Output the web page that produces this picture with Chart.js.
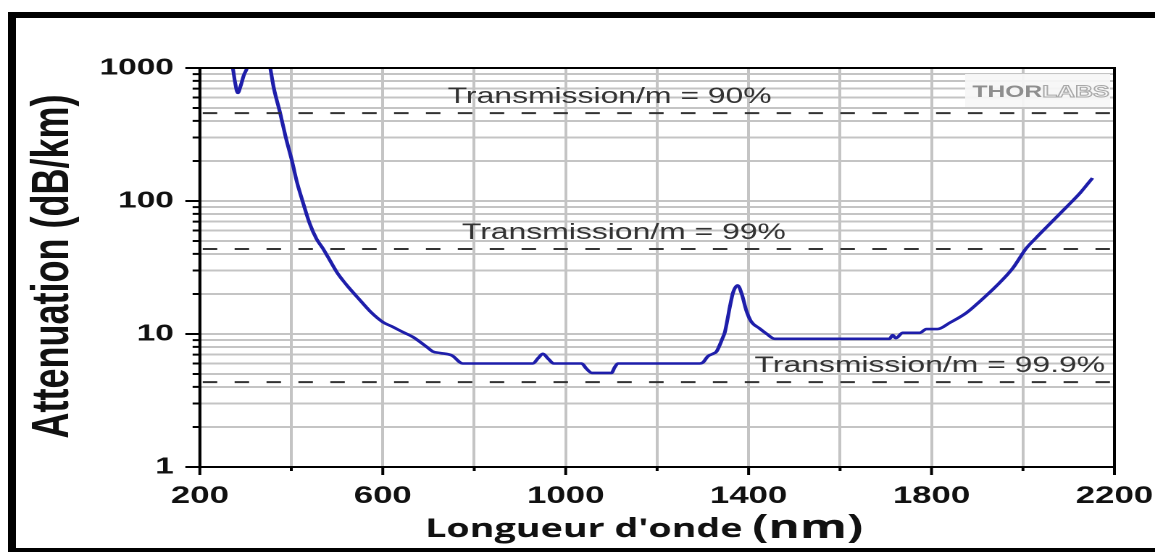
<!DOCTYPE html>
<html lang="en">
<head>
    <title>Attenuation vs wavelength</title>
    <meta charset="UTF-8">
    <script src="https://cdn.jsdelivr.net/npm/chart.js"></script>
    <style>
        html, body { margin: 0; padding: 0; background: #fff; overflow: hidden; }
        #frame { position: absolute; left: 8px; top: 12px; width: 1200px; height: 530px;
                 border-top: 6px solid #000; border-left: 8px solid #000; border-bottom: 6px solid #000; }
        /* the reference picture is stretched sideways, so the chart is drawn narrow and widened */
        #wrap { position: absolute; left: 0; top: 0; transform: scaleX(1.4492); transform-origin: 0 0; }
    </style>
</head>
<body>
    <div id="frame"></div>
    <div id="wrap">
        <canvas id="fibreChart" width="797" height="552"></canvas>
    </div>

    <script>
        // Attenuation curve (nm, dB/km)
        const wavelength = [
            262, 272, 277, 283, 289, 296, 303, 310, 335, 350, 354,
            362, 375, 388, 401, 412, 423, 440, 455, 469, 480, 500, 512, 525, 550, 575, 600,
            622, 645, 666, 696, 709, 725, 751, 775,
            928, 940, 950, 962, 974, 1035, 1045, 1057, 1100, 1107, 1114,
            1293, 1300, 1311, 1322, 1330, 1343, 1348, 1354, 1359, 1366, 1376, 1385, 1395, 1405, 1424, 1440, 1457,
            1708, 1715, 1722, 1737, 1774, 1789, 1813, 1839, 1876, 1905, 1942, 1977, 2007, 2029, 2060, 2095, 2125, 2152
        ];
        const attenuation = [
            1300, 1000, 780, 650, 730, 880, 1000, 1300, 1600, 1200, 1000,
            700, 467, 300, 203, 140, 104, 68, 52, 44, 38, 29, 25.5, 22.5, 18, 14.5, 12.3,
            11.3, 10.3, 9.5, 8.0, 7.4, 7.2, 6.9, 6.0,
            6.0, 6.6, 7.1, 6.5, 6.0, 6.0, 5.5, 5.1, 5.1, 5.6, 6.0,
            6.0, 6.1, 6.8, 7.1, 7.4, 9.3, 10.3, 13, 16, 20.5, 23.2, 20, 15, 12.5, 11.0, 10.0, 9.2,
            9.2, 9.8, 9.3, 10.2, 10.2, 10.9, 10.9, 12.1, 14.4, 17.5, 23, 31, 44, 53, 68, 90, 115, 149
        ];

        // Axes
        const xGrid = [200, 400, 600, 800, 1000, 1200, 1400, 1600, 1800, 2000, 2200];
        const xTickLabels = [200, 600, 1000, 1400, 1800, 2200];
        const yGrid = [1, 2, 3, 4, 5, 6, 7, 8, 9, 10, 20, 30, 40, 50, 60, 70, 80, 90,
                       100, 200, 300, 400, 500, 600, 700, 800, 900, 1000];
        const yTickLabels = [1, 10, 100, 1000];

        // Dashed transmission levels
        const transmissionText = ['Transmission/m = 90%', 'Transmission/m = 99%', 'Transmission/m = 99.9%'];
        const transmissionLevel = [457.6, 43.6, 4.35];
        const transmissionTextStart = [742, 773, 1413];

        const xTitle = "Longueur d'onde ";
        const xTitleUnit = '(nm)';
        const yTitle = 'Attenuation (dB/km)';

        const tickFamily = '"Liberation Sans", Arial, sans-serif';

        // Draws the dashed levels, the frame, tick marks, titles and the logo
        const extrasPlugin = {
            id: 'extras',
            afterDatasetsDraw(chart) {
                const { ctx, chartArea: area, scales: { x, y } } = chart;
                ctx.save();

                // logo box
                ctx.fillStyle = 'rgba(246,246,246,0.92)';
                ctx.fillRect(area.right - 103, 74, 100, 33);
                ctx.font = 'bold 17px "Liberation Sans", Arial, sans-serif';
                ctx.textBaseline = 'alphabetic';
                ctx.textAlign = 'left';
                ctx.fillStyle = '#8e8e8e';
                ctx.fillText('THOR', area.right - 98, 97);
                const w = ctx.measureText('THOR').width;
                ctx.strokeStyle = '#a8a8a8';
                ctx.lineWidth = 1;
                ctx.strokeText('LABS', area.right - 98 + w, 97);

                // dashed levels and their labels
                ctx.strokeStyle = '#333';
                ctx.lineWidth = 2;
                ctx.setLineDash([10, 12]);
                ctx.font = '22px "Liberation Sans", Arial, sans-serif';
                ctx.fillStyle = '#333';
                transmissionLevel.forEach((v, i) => {
                    const py = y.getPixelForValue(v);
                    ctx.beginPath();
                    ctx.moveTo(area.left + 2, py);
                    ctx.lineTo(area.right, py);
                    ctx.stroke();
                    ctx.fillText(transmissionText[i], x.getPixelForValue(transmissionTextStart[i]), py - 10);
                });
                ctx.setLineDash([]);

                // frame and tick marks
                ctx.strokeStyle = '#000';
                ctx.lineWidth = 2;
                ctx.strokeRect(area.left, area.top, area.right - area.left, area.bottom - area.top);
                ctx.beginPath();
                yGrid.forEach(v => {
                    const py = y.getPixelForValue(v);
                    const len = yTickLabels.includes(v) ? 10 : 5;
                    ctx.moveTo(area.left - len, py);
                    ctx.lineTo(area.left, py);
                });
                xGrid.forEach(v => {
                    const px = x.getPixelForValue(v);
                    const len = xTickLabels.includes(v) ? 8 : 4;
                    ctx.moveTo(px, area.bottom);
                    ctx.lineTo(px, area.bottom + len);
                });
                ctx.stroke();

                // x title, unit in a bigger size
                ctx.fillStyle = '#111';
                ctx.font = 'bold 26px "Open Sans", sans-serif';
                const w1 = ctx.measureText(xTitle).width;
                ctx.font = 'bold 33px "Open Sans", sans-serif';
                const w2 = ctx.measureText(xTitleUnit).width;
                const cx = (area.left + area.right) / 2 - 9;
                const left = cx - (w1 + w2) / 2;
                ctx.font = 'bold 26px "Open Sans", sans-serif';
                ctx.fillText(xTitle, left, 537);
                ctx.font = 'bold 33px "Open Sans", sans-serif';
                ctx.fillText(xTitleUnit, left + w1, 538);

                // y title
                ctx.translate(47, (area.top + area.bottom) / 2 - 1);
                ctx.rotate(-Math.PI / 2);
                ctx.textAlign = 'center';
                ctx.font = 'bold 36px "Liberation Sans", Arial, sans-serif';
                ctx.fillText(yTitle, 0, 0);

                ctx.restore();
            }
        };

        const ctx = document.getElementById('fibreChart').getContext('2d');
        const fibreChart = new Chart(ctx, {
            type: 'line',
            data: {
                datasets: [{
                    data: wavelength.map((w, i) => ({ x: w, y: attenuation[i] })),
                    borderColor: '#1e1eaa',
                    borderWidth: 2.6,
                    pointRadius: 0,
                    fill: false,
                    cubicInterpolationMode: 'monotone',
                }],
            },
            options: {
                responsive: false,
                devicePixelRatio: 2,
                animation: false,
                layout: { padding: { top: 68, right: 28, left: 0, bottom: 0 } },
                plugins: {
                    legend: { display: false },
                    tooltip: { enabled: false },
                },
                scales: {
                    x: {
                        type: 'linear',
                        min: 200,
                        max: 2200,
                        afterBuildTicks: scale => { scale.ticks = xGrid.map(v => ({ value: v })); },
                        afterFit: scale => {
                            scale.height = 85;
                            scale.paddingRight = 20;
                        },
                        grid: { color: '#c4c4c4', lineWidth: 2, drawTicks: false },
                        border: { color: '#000', width: 2 },
                        ticks: {
                            autoSkip: false,
                            maxRotation: 0,
                            padding: 15,
                            color: '#111',
                            font: { family: tickFamily, size: 24, weight: 'bold' },
                            callback: v => xTickLabels.includes(v) ? String(v) : '',
                        },
                    },
                    y: {
                        type: 'logarithmic',
                        min: 1,
                        max: 1000,
                        afterBuildTicks: scale => { scale.ticks = yGrid.map(v => ({ value: v })); },
                        afterFit: scale => { scale.width = 137.9; },
                        grid: { color: '#c4c4c4', lineWidth: 2, drawTicks: false },
                        border: { color: '#000', width: 2 },
                        ticks: {
                            autoSkip: false,
                            padding: 18,
                            color: '#111',
                            font: { family: tickFamily, size: 23, weight: 'bold' },
                            callback: v => yTickLabels.includes(v) ? String(v) : '',
                        },
                    },
                },
            },
            plugins: [extrasPlugin],
        });
    </script>
</body>
</html>
